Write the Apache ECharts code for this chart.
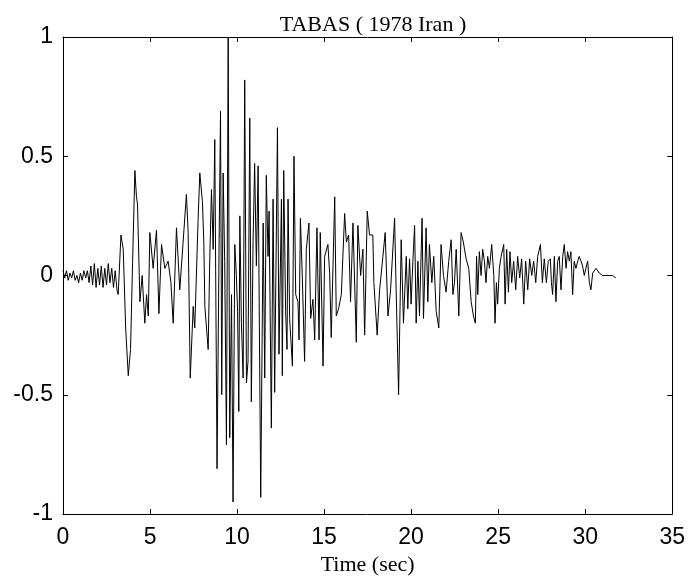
<!DOCTYPE html>
<html>
<head>
<meta charset="utf-8">
<script src="https://cdn.jsdelivr.net/npm/echarts@6.0.0/dist/echarts.min.js"></script>
<style>
  html, body { margin: 0; padding: 0; background: #ffffff; }
  #main { width: 688px; height: 581px; }
</style>
</head>
<body>
<div id="main"></div>
<script>
// TABAS record, values
var titleText = 'TABAS ( 1978 Iran )';
var xName = 'Time (sec)';

// time (s)
var times = [
  0.0, 0.1, 0.2, 0.3, 0.4, 0.5, 0.6, 0.7, 0.8, 0.9,
  1.0, 1.1, 1.2, 1.3, 1.4, 1.5, 1.6, 1.7, 1.8, 1.9,
  2.0, 2.1, 2.2, 2.3, 2.4, 2.5, 2.6, 2.7, 2.8, 2.9,
  3.0, 3.1, 3.17, 3.33, 3.46, 3.6, 3.75, 3.88, 4.0, 4.13,
  4.22, 4.28, 4.42, 4.55, 4.7, 4.8, 4.9, 4.99, 5.18, 5.37,
  5.51, 5.66, 5.85, 6.04, 6.2, 6.33, 6.52, 6.71, 6.9, 7.09,
  7.19, 7.31, 7.48, 7.57, 7.76, 7.86, 8.01, 8.09, 8.15, 8.34,
  8.43, 8.53, 8.63, 8.72, 8.85, 8.97, 9.05, 9.12, 9.2, 9.29,
  9.39, 9.49, 9.58, 9.68, 9.77, 9.87, 9.96, 10.03, 10.1, 10.16,
  10.25, 10.35, 10.44, 10.54, 10.63, 10.73, 10.82, 10.92, 11.01, 11.11,
  11.21, 11.36, 11.5, 11.59, 11.68, 11.78, 11.84, 11.97, 12.07, 12.16,
  12.32, 12.41, 12.55, 12.6, 12.68, 12.79, 12.87, 12.93, 13.02, 13.18,
  13.27, 13.37, 13.5, 13.56, 13.64, 13.75, 13.88, 13.98, 14.13, 14.23,
  14.36, 14.46, 14.59, 14.71, 14.78, 14.94, 15.03, 15.22, 15.32, 15.41,
  15.61, 15.7, 15.83, 15.99, 16.18, 16.28, 16.41, 16.52, 16.66, 16.85,
  16.94, 17.1, 17.23, 17.33, 17.48, 17.61, 17.8, 17.86, 18.05, 18.19,
  18.38, 18.51, 18.67, 18.82, 19.05, 19.14, 19.28, 19.43, 19.56, 19.72,
  19.81, 19.91, 20.0, 20.1, 20.2, 20.29, 20.39, 20.48, 20.63, 20.71,
  20.86, 20.96, 21.05, 21.19, 21.3, 21.44, 21.59, 21.72, 21.86, 22.01,
  22.16, 22.3, 22.4, 22.49, 22.59, 22.74, 22.87, 23.0, 23.16, 23.31,
  23.45, 23.58, 23.69, 23.76, 23.83, 23.92, 24.02, 24.11, 24.21, 24.3,
  24.4, 24.5, 24.63, 24.75, 24.82, 24.9, 24.97, 25.07, 25.17, 25.32,
  25.4, 25.49, 25.59, 25.68, 25.78, 25.89, 26.01, 26.12, 26.24, 26.35,
  26.47, 26.58, 26.7, 26.81, 26.93, 27.04, 27.16, 27.27, 27.43, 27.54,
  27.65, 27.77, 27.88, 28.0, 28.06, 28.13, 28.23, 28.32, 28.42, 28.51,
  28.61, 28.71, 28.8, 28.9, 28.99, 29.09, 29.18, 29.28, 29.37, 29.47,
  29.57, 29.66, 29.76, 29.85, 29.95, 30.04, 30.14, 30.24, 30.33, 30.43,
  30.62, 30.81, 31.0, 31.19, 31.38, 31.57, 31.76
];

// normalised acceleration
var accel = [
  0.02, -0.01, 0.02, -0.02, 0.01, -0.01, 0.02, -0.02, 0.0, -0.03,
  0.01, -0.02, 0.02, -0.01, 0.02, -0.03, 0.04, -0.04, 0.05, -0.05,
  0.03, -0.04, 0.04, -0.05, 0.03, -0.04, 0.05, -0.03, 0.03, -0.05,
  0.02, -0.06, -0.08, 0.17, 0.11, -0.22, -0.42, -0.31, 0.06, 0.44,
  0.33, 0.30, -0.11, 0.0, -0.2, -0.08, -0.17, 0.18, 0.03, 0.19,
  -0.16, 0.13, 0.03, 0.06, -0.03, -0.2, 0.2, -0.06, 0.14, 0.34,
  0.18, -0.43, -0.13, -0.22, 0.23, 0.43, 0.31, 0.14, -0.13, -0.31,
  0.06, 0.36, 0.11, 0.57, -0.81, 0.15, 0.69, -0.5, 0.43, 0.06,
  -0.71, 1.0, -0.68, -0.08, -0.95, 0.13, 0.0, -0.15, -0.57, 0.25,
  -0.2, -0.43, 0.82, -0.45, -0.36, 0.66, -0.53, 0.14, 0.47, 0.04,
  0.46, -0.93, 0.22, -0.43, 0.42, 0.08, 0.27, -0.64, 0.32, -0.49,
  0.62, -0.33, 0.32, -0.42, 0.44, -0.15, -0.31, 0.32, -0.18, -0.38,
  0.5, -0.08, -0.11, -0.27, 0.24, -0.01, -0.36, 0.11, 0.22, -0.18,
  -0.1, -0.27, 0.2, -0.27, 0.18, -0.38, 0.08, 0.13, 0.01, -0.26,
  0.33, -0.17, -0.14, -0.08, 0.26, 0.14, 0.17, -0.11, 0.22, -0.28,
  0.21, 0.0, 0.11, -0.25, 0.27, 0.17, 0.17, -0.03, -0.25, -0.06,
  0.08, 0.18, -0.17, -0.06, 0.24, -0.06, -0.5, 0.15, -0.2, 0.08,
  -0.14, 0.07, -0.12, 0.06, 0.21, -0.2, 0.06, -0.17, 0.24, -0.18,
  0.2, -0.11, 0.13, -0.03, 0.08, -0.15, -0.22, 0.13, 0.0, -0.07,
  0.06, 0.15, -0.08, -0.03, 0.11, -0.17, 0.18, 0.14, 0.07, 0.03,
  -0.11, -0.17, -0.2, 0.08, -0.08, 0.1, 0.0, 0.11, 0.06, -0.03,
  0.08, 0.03, 0.13, 0.0, -0.2, -0.03, -0.12, 0.03, 0.08, 0.13,
  -0.12, 0.11, -0.07, 0.1, -0.03, 0.06, -0.06, 0.08, -0.01, 0.07,
  -0.12, 0.06, -0.06, 0.07, 0.0, 0.06, -0.03, 0.08, 0.13, -0.03,
  0.07, -0.03, 0.06, 0.07, -0.03, -0.08, 0.08, -0.11, 0.06, 0.08,
  -0.06, 0.08, 0.13, 0.03, 0.1, 0.06, 0.1, -0.08, 0.06, 0.03,
  0.06, 0.08, 0.06, 0.04, 0.0, 0.03, 0.06, -0.03, -0.06, 0.01,
  0.03, 0.01, 0.0, 0.0, 0.0, 0.0, -0.01
];

var xTicks = { min: 0, max: 35, step: 5 };
var yTicks = { min: -1, max: 1, step: 0.5 };

var points = [];
for (var i = 0; i < times.length; i++) {
  points.push([times[i], accel[i]]);
}

var black = '#000000';
var tickFont = 'Liberation Sans';
var serifFont = 'Liberation Serif';

// box axis (matlab style: ticks inside on all 4 sides)
function boxAxis(type, pos, range, labels) {
  var ax = {
    type: 'value',
    position: pos,
    min: range.min,
    max: range.max,
    interval: range.step,
    axisLine: { show: true, onZero: false, lineStyle: { color: black, width: 1 } },
    axisTick: { show: true, inside: true, length: 5, lineStyle: { color: black, width: 1 } },
    axisLabel: {
      show: labels,
      color: black,
      fontSize: 23,
      fontFamily: tickFont,
      margin: type === 'x' ? 12 : 10
    },
    splitLine: { show: false }
  };
  return ax;
}

var xBottom = boxAxis('x', 'bottom', xTicks, true);
xBottom.name = xName;
xBottom.nameLocation = 'middle';
xBottom.nameGap = 40;
xBottom.nameTextStyle = { color: black, fontSize: 22, fontFamily: serifFont };

var chart = echarts.init(document.getElementById('main'), null, { renderer: 'canvas' });
chart.setOption({
  backgroundColor: '#ffffff',
  animation: false,
  title: {
    text: titleText,
    left: 368,
    top: 9,
    textAlign: 'center',
    textStyle: { color: black, fontSize: 22, fontWeight: 'normal', fontFamily: serifFont }
  },
  grid: { left: 63, right: 15, top: 37, bottom: 65, containLabel: false },
  xAxis: [xBottom, boxAxis('x', 'top', xTicks, false)],
  yAxis: [boxAxis('y', 'left', yTicks, true), boxAxis('y', 'right', yTicks, false)],
  series: [{
    type: 'line',
    data: points,
    xAxisIndex: 0,
    yAxisIndex: 0,
    showSymbol: false,
    symbol: 'none',
    lineStyle: { color: black, width: 1 },
    clip: true
  }]
});
</script>
</body>
</html>
